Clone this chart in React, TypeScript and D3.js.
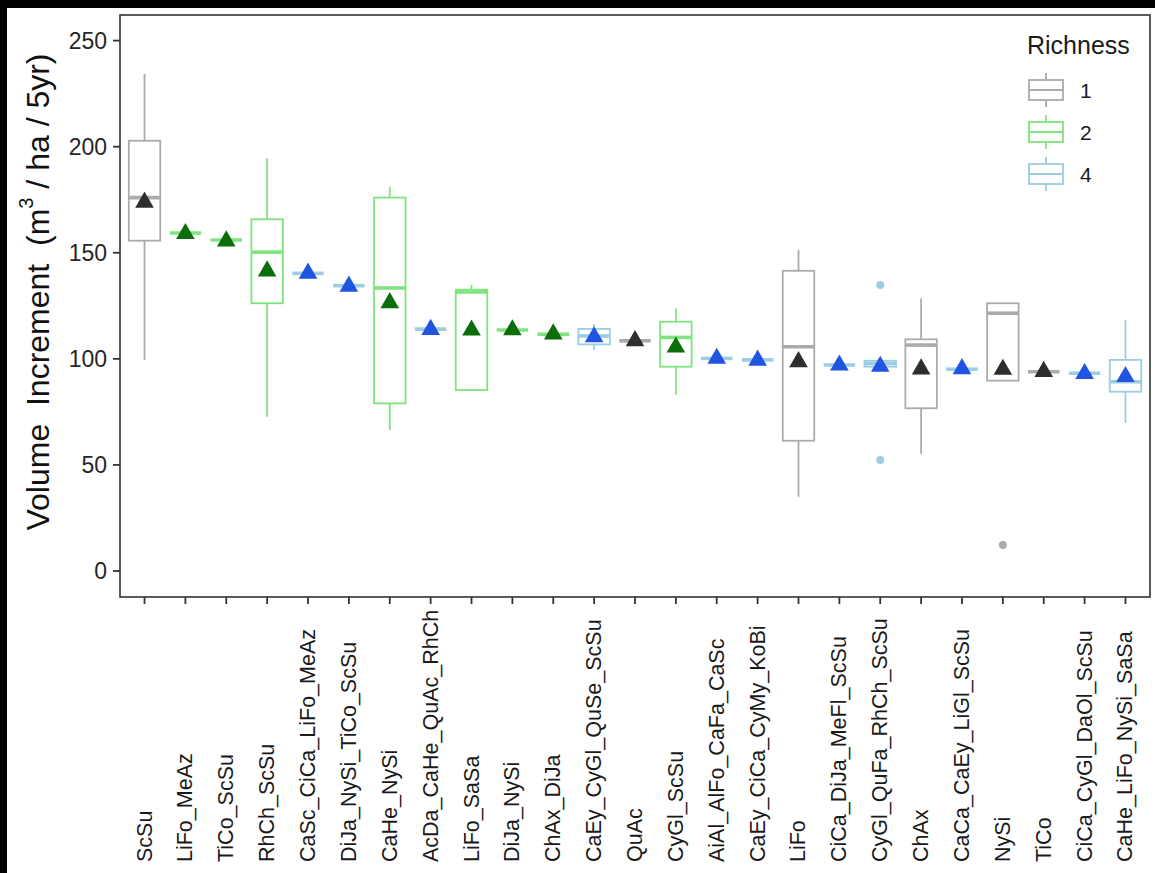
import React from "react";
import * as d3 from "d3";

const categories = [
  "ScSu", "LiFo_MeAz", "TiCo_ScSu", "RhCh_ScSu", "CaSc_CiCa_LiFo_MeAz",
  "DiJa_NySi_TiCo_ScSu", "CaHe_NySi", "AcDa_CaHe_QuAc_RhCh", "LiFo_SaSa", "DiJa_NySi",
  "ChAx_DiJa", "CaEy_CyGl_QuSe_ScSu", "QuAc", "CyGl_ScSu", "AiAl_AlFo_CaFa_CaSc",
  "CaEy_CiCa_CyMy_KoBi", "LiFo", "CiCa_DiJa_MeFl_ScSu", "CyGl_QuFa_RhCh_ScSu", "ChAx",
  "CaCa_CaEy_LiGl_ScSu", "NySi", "TiCo", "CiCa_CyGl_DaOl_ScSu", "CaHe_LiFo_NySi_SaSa",
];
const richness = [1, 2, 2, 2, 4, 4, 2, 4, 2, 2, 2, 4, 1, 2, 4, 4, 1, 4, 4, 1, 4, 1, 1, 4, 4];
const whiskerLow = [99.5, 159.3, 156, 72.7, 140.3, 134.5, 66.5, 114, 85.3, 113.6, 111.6, 104.2, 108.5, 83, 100.2, 99.5, 35, 97.1, 96.3, 55.1, 95.1, 89.7, 93.9, 93.2, 69.9];
const q1 = [155.7, 159.3, 156, 126.2, 140.3, 134.5, 79, 114, 85.3, 113.6, 111.6, 106.8, 108.5, 96.3, 100.2, 99.5, 61.4, 97.1, 96.3, 76.7, 95.1, 89.7, 93.9, 93.2, 84.5];
const medians = [176, 159.3, 156, 150.3, 140.3, 134.5, 133.4, 114, 131.5, 113.6, 111.6, 110.8, 108.5, 110.1, 100.2, 99.5, 105.7, 97.1, 97.8, 106.5, 95.1, 121.5, 93.9, 93.2, 89.2];
const q3 = [202.8, 159.3, 156, 165.8, 140.3, 134.5, 176, 114, 132.6, 113.6, 111.6, 114.1, 108.5, 117.5, 100.2, 99.5, 141.5, 97.1, 99.1, 109.2, 95.1, 126.2, 93.9, 93.2, 99.5];
const whiskerHigh = [234.3, 159.3, 156, 194.5, 140.3, 134.5, 181.1, 114, 134.8, 113.6, 111.6, 116.4, 108.5, 123.8, 100.2, 99.5, 151.3, 97.1, 99.1, 128.5, 95.1, 126.2, 93.9, 93.2, 118.3];
const means = [173.8, 159, 155.5, 141.4, 140.3, 134.2, 126.4, 113.8, 113.5, 113.6, 111.7, 110.3, 108.5, 105.5, 100.2, 99.3, 98.6, 97, 96.4, 95.2, 95.3, 95, 94, 93, 91.6];
const outlierCats = ["CyGl_QuFa_RhCh_ScSu", "CyGl_QuFa_RhCh_ScSu", "NySi"];
const outlierValues = [134.8, 52.3, 12.3];
const yTicks = [0, 50, 100, 150, 200, 250];
const legendLevels = [1, 2, 4];

const boxColor: Record<number, string> = { 1: "#ababab", 2: "#7fe47f", 4: "#9ccde4" };
const meanColor: Record<number, string> = { 1: "#2e2e2e", 2: "#0b6e0b", 4: "#2154e0" };

const W = 1155;
const H = 873;
const panel = { left: 120, right: 1150, top: 15, bottom: 597 };
const font = "'Liberation Sans', Arial, Helvetica, sans-serif";

export default function App() {
  const x = d3.scalePoint<string>().domain(categories).range([panel.left, panel.right]).padding(0.6);
  const y = d3.scaleLinear().domain([-12.25, 262.07]).range([panel.bottom, panel.top]);
  const step = x.step();
  const bw = step * 0.77;
  const tri = d3.symbol().type(d3.symbolTriangle).size(150);

  return (
    <svg width={W} height={H} style={{ position: "absolute", left: 0, top: 0, background: "#fff" }} fontFamily={font}>
      <rect x={0} y={0} width={W} height={H} fill="#fff" />
      <rect x={0} y={0} width={W} height={8} fill="#000" />
      <rect x={0} y={0} width={7} height={H} fill="#000" />

      {/* boxes */}
      {categories.map((c, i) => {
        const cx = x(c)!;
        const col = boxColor[richness[i]];
        return (
          <g key={c}>
            <line x1={cx} x2={cx} y1={y(whiskerHigh[i])} y2={y(q3[i])} stroke={col} strokeWidth={1.8} />
            <line x1={cx} x2={cx} y1={y(q1[i])} y2={y(whiskerLow[i])} stroke={col} strokeWidth={1.8} />
            <rect x={cx - bw / 2} y={y(q3[i])} width={bw} height={Math.max(0, y(q1[i]) - y(q3[i]))} fill="#fff" stroke={col} strokeWidth={1.8} />
            <line x1={cx - bw / 2} x2={cx + bw / 2} y1={y(medians[i])} y2={y(medians[i])} stroke={col} strokeWidth={3.6} />
          </g>
        );
      })}
      {outlierCats.map((c, k) => {
        const i = categories.indexOf(c);
        return <circle key={"o" + k} cx={x(c)!} cy={y(outlierValues[k])} r={4} fill={boxColor[richness[i]]} />;
      })}
      {categories.map((c, i) => (
        <path key={"m" + c} d={tri()!} transform={`translate(${x(c)},${y(means[i])})`} fill={meanColor[richness[i]]} />
      ))}

      {/* panel border */}
      <rect x={panel.left} y={panel.top} width={panel.right - panel.left} height={panel.bottom - panel.top} fill="none" stroke="#333" strokeWidth={1.6} />

      {/* y axis */}
      {yTicks.map((t) => (
        <g key={t}>
          <line x1={panel.left - 7} x2={panel.left} y1={y(t)} y2={y(t)} stroke="#333" strokeWidth={1.8} />
          <text x={panel.left - 13} y={y(t)} textAnchor="end" dominantBaseline="central" fontSize={23} fill="#262626">{t}</text>
        </g>
      ))}
      <text transform={`translate(38,292) rotate(-90)`} textAnchor="middle" dominantBaseline="central" fontSize={32} fill="#111">
        Volume{"\u00a0\u00a0"}Increment{"\u00a0\u00a0"}(m<tspan dy={-12} fontSize={20}>3</tspan><tspan dy={12}>{"\u00a0/ ha / 5yr)"}</tspan>
      </text>

      {/* x axis */}
      {categories.map((c) => (
        <g key={"x" + c}>
          <line x1={x(c)!} x2={x(c)!} y1={panel.bottom} y2={panel.bottom + 7} stroke="#333" strokeWidth={1.8} />
          <text transform={`translate(${x(c)},862) rotate(-90)`} textAnchor="start" dominantBaseline="central" fontSize={21.5} fill="#1a1a1a">{c}</text>
        </g>
      ))}

      {/* legend */}
      <text x={1027} y={54} fontSize={25} fill="#1a1a1a">Richness</text>
      {legendLevels.map((lv, k) => {
        const cy = 90 + k * 42;
        const col = boxColor[lv];
        return (
          <g key={"l" + lv}>
            <line x1={1046} x2={1046} y1={cy - 17} y2={cy + 17} stroke={col} strokeWidth={1.8} />
            <rect x={1029} y={cy - 10} width={34} height={20} fill="#fff" stroke={col} strokeWidth={1.8} />
            <line x1={1029} x2={1063} y1={cy} y2={cy} stroke={col} strokeWidth={1.8} />
            <text x={1080} y={cy} dominantBaseline="central" fontSize={21} fill="#1a1a1a">{lv}</text>
          </g>
        );
      })}
    </svg>
  );
}
